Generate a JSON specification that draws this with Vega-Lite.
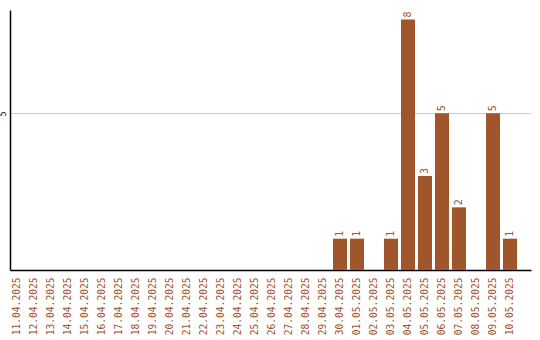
{
  "$schema": "https://vega.github.io/schema/vega-lite/v6.json",
  "autosize": "none",
  "padding": {"left": 10, "top": 10, "right": 9, "bottom": 70},
  "width": 521,
  "height": 260,
  "background": "white",
  "config": {"view": {"stroke": null}},
  "data": {"values": [
    {"date": "11.04.2025", "value": 0},
    {"date": "12.04.2025", "value": 0},
    {"date": "13.04.2025", "value": 0},
    {"date": "14.04.2025", "value": 0},
    {"date": "15.04.2025", "value": 0},
    {"date": "16.04.2025", "value": 0},
    {"date": "17.04.2025", "value": 0},
    {"date": "18.04.2025", "value": 0},
    {"date": "19.04.2025", "value": 0},
    {"date": "20.04.2025", "value": 0},
    {"date": "21.04.2025", "value": 0},
    {"date": "22.04.2025", "value": 0},
    {"date": "23.04.2025", "value": 0},
    {"date": "24.04.2025", "value": 0},
    {"date": "25.04.2025", "value": 0},
    {"date": "26.04.2025", "value": 0},
    {"date": "27.04.2025", "value": 0},
    {"date": "28.04.2025", "value": 0},
    {"date": "29.04.2025", "value": 0},
    {"date": "30.04.2025", "value": 1},
    {"date": "01.05.2025", "value": 1},
    {"date": "02.05.2025", "value": 0},
    {"date": "03.05.2025", "value": 1},
    {"date": "04.05.2025", "value": 8},
    {"date": "05.05.2025", "value": 3},
    {"date": "06.05.2025", "value": 5},
    {"date": "07.05.2025", "value": 2},
    {"date": "08.05.2025", "value": 0},
    {"date": "09.05.2025", "value": 5},
    {"date": "10.05.2025", "value": 1}
  ]},
  "encoding": {
    "x": {
      "field": "date", "type": "nominal", "sort": null,
      "scale": {"paddingInner": 0.1765, "paddingOuter": 0.4118, "align": 0},
      "axis": {
        "title": null, "labelAngle": -90, "labelAlign": "right", "labelBaseline": "middle",
        "labelFont": "DejaVu Sans Mono", "labelFontSize": 9.6, "labelColor": "#a0522d",
        "ticks": false, "labelPadding": 7, "domainColor": "#000000", "domainWidth": 1.5,
        "grid": false
      }
    },
    "y": {
      "field": "value", "type": "quantitative",
      "scale": {"domain": [0, 8.3], "nice": false},
      "axis": {
        "title": null, "values": [5], "labelAngle": -90, "labelAlign": "center", "labelBaseline": "bottom",
        "labelFont": "DejaVu Sans Mono", "labelFontSize": 8, "labelColor": "#000000",
        "ticks": false, "labelPadding": 3, "domainColor": "#000000", "domainWidth": 1.5,
        "grid": true, "gridColor": "#cccccc", "gridWidth": 1
      }
    }
  },
  "layer": [
    {"mark": {"type": "bar", "color": "#a0552a"}},
    {
      "transform": [{"filter": "datum.value > 0"}],
      "mark": {"type": "text", "angle": -90, "align": "left", "baseline": "middle", "dx": 2,
               "font": "DejaVu Sans Mono", "fontSize": 10, "color": "#a0522d"},
      "encoding": {"text": {"field": "value", "type": "quantitative"}}
    }
  ]
}
